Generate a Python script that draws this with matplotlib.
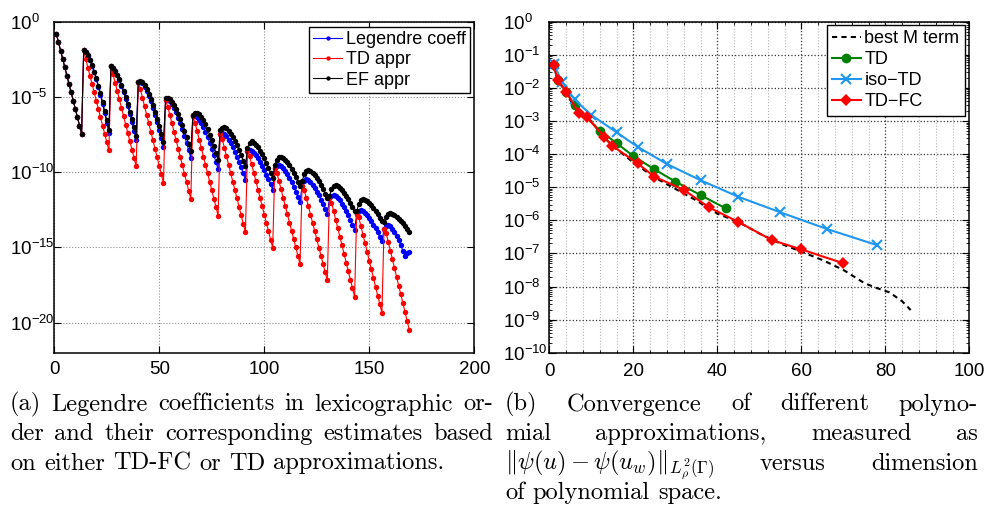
import numpy as np
import matplotlib
matplotlib.use("Agg")
import matplotlib.pyplot as plt
from matplotlib.ticker import FixedLocator, MultipleLocator, LogLocator, NullFormatter, NullLocator

# ---------------- data (log10 of the plotted values) ----------------
# Left panel: 13 blocks of 13 Legendre coefficients in lexicographic order
block0 = [-0.82, -1.37, -1.93, -2.48, -3.03, -3.58, -4.14, -4.69, -5.24, -5.79, -6.35, -6.90, -7.45]

legendre_log10 = [
    block0,
    [-1.88, -2.01, -2.26, -2.57, -2.94, -3.37, -3.83, -4.34, -4.88, -5.47, -6.08, -6.73, -7.40],
    [-2.94, -3.06, -3.27, -3.55, -3.88, -4.26, -4.68, -5.13, -5.61, -6.13, -6.68, -7.25, -7.85],
    [-4.00, -3.98, -4.10, -4.32, -4.60, -4.93, -5.30, -5.72, -6.17, -6.66, -7.18, -7.73, -8.30],
    [-5.22, -5.18, -5.29, -5.48, -5.73, -6.03, -6.37, -6.75, -7.15, -7.59, -8.06, -8.55, -9.07],
    [-6.30, -6.25, -6.35, -6.53, -6.76, -7.03, -7.34, -7.68, -8.05, -8.45, -8.88, -9.33, -9.80],
    [-7.45, -7.38, -7.47, -7.62, -7.83, -8.07, -8.34, -8.64, -8.96, -9.31, -9.69, -10.08, -10.50],
    [-8.60, -8.50, -8.57, -8.71, -8.88, -9.09, -9.32, -9.58, -9.86, -10.16, -10.48, -10.81, -11.17],
    [-9.75, -9.56, -9.50, -9.58, -9.72, -9.91, -10.13, -10.39, -10.66, -10.97, -11.29, -11.64, -12.00],
    [-10.90, -10.57, -10.46, -10.54, -10.67, -10.84, -11.05, -11.29, -11.55, -11.83, -12.14, -12.46, -12.80],
    [-11.75, -11.56, -11.50, -11.57, -11.71, -11.88, -12.09, -12.32, -12.58, -12.86, -13.16, -13.48, -13.82],
    [-12.75, -12.56, -12.50, -12.57, -12.69, -12.84, -13.03, -13.24, -13.48, -13.73, -14.00, -14.29, -14.60],
    [-13.80, -13.57, -13.49, -13.58, -13.75, -13.98, -14.24, -14.53, -14.86, -15.22, -15.60, -15.38, -15.32],
]

td_appr_log10 = [
    block0,
    [-1.88, -2.50, -3.05, -3.60, -4.15, -4.70, -5.26, -5.81, -6.36, -6.91, -7.46, -8.01, -8.56],
    [-2.94, -3.50, -4.06, -4.61, -5.17, -5.72, -6.28, -6.84, -7.39, -7.95, -8.51, -9.06, -9.62],
    [-4.00, -4.50, -5.07, -5.63, -6.20, -6.76, -7.33, -7.89, -8.46, -9.02, -9.59, -10.15, -10.72],
    [-5.22, -5.64, -6.20, -6.76, -7.32, -7.88, -8.44, -9.00, -9.55, -10.11, -10.67, -11.23, -11.79],
    [-6.30, -6.70, -7.26, -7.83, -8.39, -8.96, -9.52, -10.08, -10.65, -11.21, -11.77, -12.34, -12.90],
    [-7.45, -7.82, -8.38, -8.95, -9.51, -10.07, -10.63, -11.19, -11.75, -12.32, -12.88, -13.44, -14.00],
    [-8.60, -8.94, -9.49, -10.05, -10.60, -11.16, -11.71, -12.27, -12.82, -13.38, -13.93, -14.49, -15.04],
    [-9.75, -10.05, -10.60, -11.15, -11.70, -12.25, -12.80, -13.35, -13.90, -14.45, -15.00, -15.55, -16.10],
    [-10.90, -11.18, -11.73, -12.27, -12.82, -13.37, -13.92, -14.46, -15.01, -15.56, -16.11, -16.65, -17.20],
    [-11.75, -12.02, -12.59, -13.16, -13.73, -14.30, -14.87, -15.44, -16.01, -16.58, -17.15, -17.72, -18.29],
    [-12.75, -13.01, -13.59, -14.16, -14.74, -15.32, -15.89, -16.47, -17.05, -17.62, -18.20, -18.77, -19.35],
    [-13.80, -14.04, -14.62, -15.21, -15.79, -16.38, -16.96, -17.54, -18.13, -18.71, -19.29, -19.88, -20.46],
]

ef_appr_log10 = [
    block0,
    [-1.88, -2.01, -2.24, -2.55, -2.90, -3.31, -3.76, -4.25, -4.77, -5.34, -5.93, -6.55, -7.20],
    [-2.94, -3.05, -3.26, -3.52, -3.84, -4.19, -4.59, -5.01, -5.48, -5.97, -6.49, -7.03, -7.60],
    [-3.98, -3.92, -4.03, -4.24, -4.50, -4.82, -5.17, -5.56, -5.99, -6.45, -6.94, -7.46, -8.00],
    [-5.10, -5.04, -5.14, -5.32, -5.55, -5.83, -6.14, -6.48, -6.86, -7.26, -7.69, -8.14, -8.62],
    [-6.19, -6.08, -6.04, -6.14, -6.32, -6.56, -6.83, -7.15, -7.50, -7.88, -8.29, -8.72, -9.18],
    [-7.19, -7.06, -7.01, -7.09, -7.24, -7.44, -7.67, -7.93, -8.22, -8.54, -8.88, -9.24, -9.62],
    [-8.40, -8.07, -7.96, -8.04, -8.18, -8.36, -8.58, -8.82, -9.09, -9.38, -9.70, -10.04, -10.39],
    [-9.51, -9.18, -9.01, -8.96, -9.03, -9.17, -9.34, -9.55, -9.78, -10.04, -10.33, -10.63, -10.95],
    [-10.62, -10.15, -9.92, -9.84, -9.91, -10.04, -10.20, -10.40, -10.62, -10.86, -11.13, -11.42, -11.72],
    [-11.61, -11.15, -10.92, -10.84, -10.91, -11.03, -11.18, -11.36, -11.57, -11.80, -12.05, -12.32, -12.61],
    [-12.61, -12.11, -11.85, -11.77, -11.83, -11.93, -12.06, -12.21, -12.39, -12.59, -12.80, -13.03, -13.27],
    [-13.34, -12.96, -12.77, -12.71, -12.76, -12.85, -12.96, -13.09, -13.24, -13.41, -13.59, -13.79, -14.00],
]

left_labels = ["Legendre coeff", "TD appr", "EF appr"]

# Right panel: error vs dimension of polynomial space
best_dim = [1, 2, 4, 7, 10, 13, 16, 20, 25, 30, 35, 40, 45, 50, 55, 60, 65, 70, 75, 78, 81, 84, 86]
best_log10 = [-1.31, -1.76, -2.15, -2.80, -3.00, -3.50, -3.85, -4.25, -4.70, -5.05, -5.40, -5.80,
              -6.05, -6.40, -6.70, -6.95, -7.20, -7.50, -7.90, -8.05, -8.18, -8.45, -8.71]
td_dim = [1, 2, 4, 6, 12, 16, 20, 25, 30, 36, 42]
td_log10 = [-1.31, -1.76, -2.11, -2.52, -3.29, -3.67, -4.06, -4.46, -4.83, -5.24, -5.64]
iso_dim = [1, 3, 6, 10, 16, 21, 28, 36, 45, 55, 66, 78]
iso_log10 = [-1.27, -1.81, -2.35, -2.82, -3.34, -3.78, -4.30, -4.79, -5.29, -5.76, -6.26, -6.75]
tdfc_dim = [1, 2, 4, 7, 9, 13, 15, 21, 25, 32, 38, 45, 53, 60, 70]
tdfc_log10 = [-1.31, -1.76, -2.11, -2.77, -2.89, -3.47, -3.75, -4.28, -4.68, -5.08, -5.61,
              -6.05, -6.60, -6.88, -7.30]
right_labels = ["best M term", "TD", "iso\u2212TD", "TD\u2212FC"]

left_xticks = [0, 50, 100, 150, 200]
left_yexp = [0, -5, -10, -15, -20]
right_xticks = [0, 20, 40, 60, 80, 100]
right_yexp = list(range(0, -11, -1))

caption_a = ["(a) Legendre coefficients in lexicographic or-",
             "der and their corresponding estimates based",
             "on either TD-FC or TD approximations."]
caption_b = ["(b) Convergence of different polyno-",
             "mial approximations, measured as",
             r"$\Vert\psi(u)-\psi(u_w)\Vert_{L^2_\rho(\Gamma)}$ versus dimension",
             "of polynomial space."]

# ---------------- style ----------------
plt.rcParams['font.family'] = ['Liberation Sans', 'DejaVu Sans']
plt.rcParams['mathtext.fontset'] = 'custom'
plt.rcParams['mathtext.rm'] = 'Liberation Sans'
plt.rcParams['mathtext.it'] = 'Liberation Sans:italic'
plt.rcParams['mathtext.bf'] = 'Liberation Sans:bold'
plt.rcParams['mathtext.sf'] = 'Liberation Sans'
plt.rcParams['axes.linewidth'] = 1.1

W, H = 987, 507
fig = plt.figure(figsize=(W / 100, H / 100), dpi=100)
fig.patch.set_facecolor('white')

FS = 13
TFS = 13.5


def style_axes(ax, ypad, xpad):
    ax.tick_params(which='both', direction='in', top=True, right=True, labelsize=TFS)
    ax.tick_params(which='major', length=5, width=0.8)
    ax.tick_params(which='minor', length=2.5, width=0.6)
    ax.tick_params(axis='y', which='major', pad=ypad)
    ax.tick_params(axis='x', which='major', pad=xpad)
    for lab in ax.get_yticklabels():
        lab.set_horizontalalignment('left')


# ---------------- left panel ----------------
ax1 = fig.add_axes([54.3 / W, 1 - 352.7 / H, 420 / W, 331 / H])
index = np.arange(1, 13 * 13 + 1)
leg_vals = 10.0 ** np.concatenate(legendre_log10)
td_vals = 10.0 ** np.concatenate(td_appr_log10)
ef_vals = 10.0 ** np.concatenate(ef_appr_log10)
ms = 3.9
ax1.plot(index, leg_vals, '-o', color='#0000ff', lw=0.8, ms=ms, mew=0, label=left_labels[0])
ax1.plot(index, td_vals, '-o', color='#ff0000', lw=0.8, ms=ms, mew=0, label=left_labels[1])
ax1.plot(index, ef_vals, '-o', color='#000000', lw=0.8, ms=ms, mew=0, label=left_labels[2])
ax1.set_yscale('log')
ax1.set_xlim(0, 200)
ax1.set_ylim(1e-22, 1)
ax1.xaxis.set_major_locator(FixedLocator(left_xticks))
ax1.set_xticklabels([str(v) for v in left_xticks])
ax1.yaxis.set_major_locator(FixedLocator([10.0 ** e for e in left_yexp]))
ax1.yaxis.set_minor_locator(NullLocator())
ax1.set_yticklabels([r'$10^{%d}$' % e for e in left_yexp])
ax1.grid(True, which='major', ls=':', color='#8c8c8c', lw=0.8)
style_axes(ax1, 32, 6)
leg1 = ax1.legend(loc='upper right', bbox_to_anchor=(0.99, 0.985), borderaxespad=0,
                  fontsize=FS, handlelength=1.6, handletextpad=0.2, labelspacing=0.18,
                  borderpad=0.25, fancybox=False, framealpha=1, edgecolor='black',
                  markerscale=0.8)
leg1.get_frame().set_linewidth(1.0)

# ---------------- right panel ----------------
ax2 = fig.add_axes([549.3 / W, 1 - 352.7 / H, 420.2 / W, 331 / H])
ax2.plot(best_dim, 10.0 ** np.array(best_log10), color='black', lw=1.5, ls=(0, (2.5, 2.0)),
         label=right_labels[0])
ax2.plot(td_dim, 10.0 ** np.array(td_log10), '-o', color='#008000', lw=1.5, ms=7, mew=0,
         label=right_labels[1])
ax2.plot(iso_dim, 10.0 ** np.array(iso_log10), '-x', color='#1f96ef', lw=1.5, ms=6.5, mew=1.5,
         label=right_labels[2])
ax2.plot(tdfc_dim, 10.0 ** np.array(tdfc_log10), '-D', color='#ff0000', lw=1.5, ms=6, mew=0,
         label=right_labels[3])
ax2.set_yscale('log')
ax2.set_xlim(0, 100)
ax2.set_ylim(1e-10, 1)
ax2.xaxis.set_major_locator(FixedLocator(right_xticks))
ax2.set_xticklabels([str(v) for v in right_xticks])
ax2.xaxis.set_minor_locator(MultipleLocator(4))
ax2.yaxis.set_major_locator(FixedLocator([10.0 ** e for e in right_yexp]))
ax2.set_yticklabels([r'$10^{%d}$' % e for e in right_yexp])
ax2.yaxis.set_minor_locator(LogLocator(base=10, subs=np.arange(2, 10), numticks=20))
ax2.yaxis.set_minor_formatter(NullFormatter())
ax2.grid(True, which='major', ls=':', color='#333333', lw=0.9)
ax2.grid(True, which='minor', axis='x', ls=':', color='#b4b4b4', lw=0.8)
style_axes(ax2, 33.5, 7.5)
leg2 = ax2.legend(loc='upper right', bbox_to_anchor=(0.989, 0.99), borderaxespad=0,
                  fontsize=FS, handlelength=1.6, handletextpad=0.2, labelspacing=0.22,
                  borderpad=0.3, fancybox=False, framealpha=1, edgecolor='black',
                  numpoints=1)
leg2.get_frame().set_linewidth(1.0)

# ---------------- captions (justified, Computer Modern) ----------------
renderer = fig.canvas.get_renderer()


def measure(s, size, **kw):
    t = fig.text(0, 0, s, fontsize=size, family='cmr10', **kw)
    w = t.get_window_extent(renderer).width
    t.remove()
    return w


ref = measure(caption_a[2], 16)
CS = 16 * 435.0 / ref


def draw_line(line, x0, x1, ybase, justify):
    if line.startswith('$'):
        end = line.index('$', 1) + 1
        words = [line[:end]] + line[end:].split()
    else:
        words = line.split()
    texts = []
    for w_ in words:
        kw = dict(math_fontfamily='cm') if w_.startswith('$') else {}
        t = fig.text(0, 0, w_, fontsize=CS, family='cmr10', va='baseline', ha='left', **kw)
        texts.append(t)
    widths = [t.get_window_extent(renderer).width for t in texts]
    if justify and len(words) > 1:
        gap = ((x1 - x0) - sum(widths)) / (len(words) - 1)
    else:
        gap = 0.333 * CS * 100 / 72
    x = x0
    for t, wd in zip(texts, widths):
        t.set_position((x / W, 1 - ybase / H))
        x += wd + gap


baselines = [410.5, 440.0, 469.5, 499.0]
for i, line in enumerate(caption_a):
    draw_line(line, 10, 493, baselines[i], i < len(caption_a) - 1)
for i, line in enumerate(caption_b):
    draw_line(line, 505, 978, baselines[i], i < len(caption_b) - 1)

fig.savefig('out.png', dpi=100, facecolor='white')
